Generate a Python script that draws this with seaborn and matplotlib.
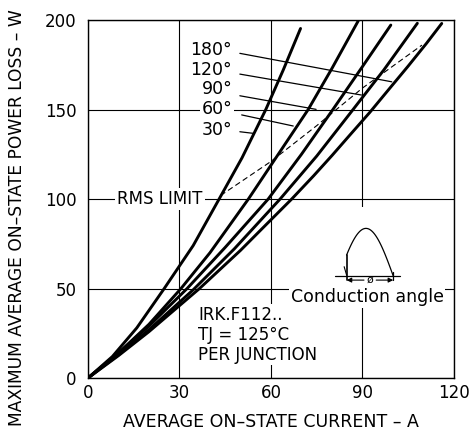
import numpy as np
import pandas as pd
import matplotlib
matplotlib.use("Agg")
import matplotlib.pyplot as plt
from matplotlib.patches import Rectangle
import seaborn as sns

# ---- data ----
angle_labels = ["30°", "60°", "90°", "120°", "180°"]
cur_30 = [0, 8, 16, 25, 34.5, 43, 50.5, 58.3, 64, 69.7]
pwr_30 = [0, 12, 28, 50, 74, 100, 123, 150, 172, 195.3]
cur_60 = [0, 10, 20, 30.5, 40, 52.6, 62, 72.2, 80, 88.6]
pwr_60 = [0, 14, 30, 50, 70, 100, 124, 150, 173, 199.5]
cur_90 = [0, 10, 20, 32.5, 45, 59.1, 70, 80.3, 90, 99.3]
pwr_90 = [0, 14, 29, 50, 73, 100, 125, 150, 174, 197.2]
cur_120 = [0, 10, 20, 34.5, 48, 63, 75, 86, 97, 108]
pwr_120 = [0, 13, 27, 49.3, 72.2, 100, 124, 148, 172.1, 198.2]
cur_180 = [0, 10, 20, 36.5, 50, 58, 66.8, 74, 80, 86, 92.4, 99, 105, 111, 116]
pwr_180 = [0, 12.5, 25.9, 49.9, 71.3, 85, 100, 113, 124.3, 136, 148.4, 162, 174.3, 187, 198.1]

rms_cur = [43.5, 60, 75, 90, 109.5]
rms_pwr = [102, 121, 141, 162, 186]

x_ticks = [0, 30, 60, 90, 120]
y_ticks = [0, 50, 100, 150, 200]

# label texts (order top to bottom) and leader line ends
label_texts = ["180°", "120°", "90°", "60°", "30°"]
label_y = [183.2, 172.0, 161.3, 150.2, 138.5]
leader_x0 = [49.8, 49.8, 49.8, 50.4, 49.8]
leader_y0 = [181.4, 169.8, 157.7, 147.0, 137.6]
leader_x1 = [99.6, 89.7, 74.8, 67.3, 54.2]
leader_y1 = [165.5, 158.1, 150.1, 140.8, 136.7]

# ---- styling ----
sns.set_theme(style="white")
plt.rcParams["font.family"] = ["DejaVu Sans"]
plt.rcParams["text.color"] = "black"
plt.rcParams["xtick.color"] = "black"
plt.rcParams["ytick.color"] = "black"
plt.rcParams["axes.labelcolor"] = "black"

fig = plt.figure(figsize=(4.71, 4.36), dpi=100)
ax = fig.add_axes([0.1868, 0.133, 0.777, 0.821])

frames = []
for lab, c, p in zip(angle_labels,
                     [cur_30, cur_60, cur_90, cur_120, cur_180],
                     [pwr_30, pwr_60, pwr_90, pwr_120, pwr_180]):
    frames.append(pd.DataFrame({"I": c, "P": p, "angle": lab}))
df = pd.concat(frames, ignore_index=True)

sns.lineplot(data=df, x="I", y="P", hue="angle", palette=["black"] * 5,
             linewidth=2.1, legend=False, sort=False, estimator=None,
             ax=ax, zorder=4)

rms_df = pd.DataFrame({"I": rms_cur, "P": rms_pwr})
sns.lineplot(data=rms_df, x="I", y="P", color="black", linewidth=0.8,
             ax=ax, zorder=4, dashes=False)
ax.lines[-1].set_dashes((5, 3))

ax.set_xlim(0, 120)
ax.set_ylim(0, 200)
ax.set_xticks(x_ticks)
ax.set_yticks(y_ticks)
ax.set_xticklabels([str(v) for v in x_ticks], fontsize=12, color="black")
ax.set_yticklabels([str(v) for v in y_ticks], fontsize=12, color="black")
ax.tick_params(axis="y", length=0, pad=8)
ax.tick_params(axis="x", length=0, pad=4)
ax.set_xlabel("")
ax.set_ylabel("")
ax.set_axisbelow(True)
ax.grid(True, color="black", linewidth=0.8)
for s in ax.spines.values():
    s.set_color("black")
    s.set_linewidth(1.0)

# white area for inset
ax.add_patch(Rectangle((65.8, 40), 51.2, 55.5, facecolor="white",
                       edgecolor="none", zorder=1))

# angle labels and leaders
for t, y in zip(label_texts, label_y):
    ax.text(47.3, y, t, ha="right", va="center", fontsize=12.5, zorder=3,
            color="black",
            bbox=dict(facecolor="white", edgecolor="none", pad=1.0))
for x0, y0, x1, y1 in zip(leader_x0, leader_y0, leader_x1, leader_y1):
    ax.plot([x0, x1], [y0, y1], color="black", linewidth=0.9, zorder=3)

ax.text(23.6, 100, "RMS LIMIT", ha="center", va="center", fontsize=12,
        zorder=3, color="black",
        bbox=dict(facecolor="white", edgecolor="none", pad=1.5))

ax.text(36.2, 40.5, "IRK.F112..\nTJ = 125°C\nPER JUNCTION", ha="left",
        va="top", fontsize=12, linespacing=1.15, zorder=3, color="black",
        bbox=dict(facecolor="white", edgecolor="none", pad=1.0))

ax.text(91.6, 45, "Conduction angle", ha="center", va="center",
        fontsize=12.5, zorder=3, color="black",
        bbox=dict(facecolor="white", edgecolor="none", pad=1.0))

# waveform inset
base = 57.0
amp = 26.6
th0 = np.arcsin(11.7 / amp)
th = np.linspace(th0, np.pi, 60)
wx = 84.8 + (th - th0) / (np.pi - th0) * (100.1 - 84.8)
wy = base + amp * np.sin(th)
ax.plot(wx, wy, color="black", linewidth=0.9, zorder=3)
ax.plot([84.8, 84.8], [54.7, base + 11.7], color="black", linewidth=1.2, zorder=3)
ax.plot([100.1, 100.1], [54.7, 59.3], color="black", linewidth=0.9, zorder=3)
ax.plot([81.0, 102.3], [base, base], color="black", linewidth=0.9, zorder=3)
ax.plot([84.0, 84.8], [62.2, 57.5], color="black", linewidth=0.8, zorder=3)
ax.annotate("", xy=(84.8, 54.7), xytext=(90.5, 54.7),
            arrowprops=dict(arrowstyle="-|>", color="black", lw=0.8,
                            mutation_scale=7, shrinkA=0, shrinkB=0), zorder=3)
ax.annotate("", xy=(100.1, 54.7), xytext=(94.5, 54.7),
            arrowprops=dict(arrowstyle="-|>", color="black", lw=0.8,
                            mutation_scale=7, shrinkA=0, shrinkB=0), zorder=3)
ax.text(92.5, 54.7, "ø", ha="center", va="center", fontsize=8, zorder=3,
        color="black")

fig.text(17 / 471, 0.501, "MAXIMUM AVERAGE ON–STATE POWER LOSS – W",
         rotation=90, ha="center", va="center", fontsize=12.3, color="black")
fig.text(271 / 471, 1 - 421.7 / 436, "AVERAGE ON–STATE CURRENT – A",
         ha="center", va="center", fontsize=12.5, color="black")

fig.savefig("out.png", dpi=100, facecolor="white")
